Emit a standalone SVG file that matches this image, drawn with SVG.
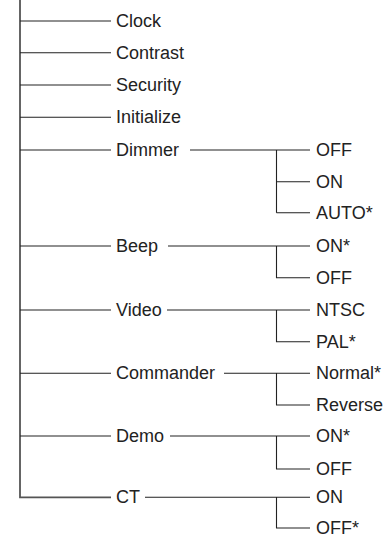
<svg xmlns="http://www.w3.org/2000/svg" width="385" height="534" viewBox="0 0 385 534">
<style>
.t{font-family:"Liberation Sans",Arial,sans-serif;font-size:18px;fill:#222;dominant-baseline:central}
.l{stroke:#222;stroke-width:1.1;fill:none}
.m{stroke:#555;stroke-width:1.8;fill:none}
</style>
<rect width="385" height="534" fill="#fff"/>
<g id="connectors">
<path class="m" d="M20,0V497.3H111"/>
<path class="l" d="M20,21H111M20,52.7H111M20,85H111M20,117.3H111M20,150H111M20,246H111M20,310H111M20,373.3H111M20,436H111"/>
<path class="l" d="M190,150H310M276.5,150V212.7M276.5,181.7H310M276.5,212.7H310"/>
<path class="l" d="M168,246H310M276.5,246V277.7H310"/>
<path class="l" d="M167,310H310M276.5,310V341.7H310"/>
<path class="l" d="M224,373.3H310M276.5,373.3V405H310"/>
<path class="l" d="M170,436H310M276.5,436V469H310"/>
<path class="l" d="M145,497.3H310M276.5,497.3V528H310"/>
</g>
<g id="clock"><text class="t" x="116" y="21">Clock</text></g>
<g id="contrast"><text class="t" x="116" y="52.7">Contrast</text></g>
<g id="security"><text class="t" x="116" y="85">Security</text></g>
<g id="initialize"><text class="t" x="116" y="117.3">Initialize</text></g>
<g id="dimmer"><text class="t" x="116" y="150">Dimmer</text></g>
<g id="dimmer-off"><text class="t" x="316" y="150">OFF</text></g>
<g id="dimmer-on"><text class="t" x="316" y="181.7">ON</text></g>
<g id="dimmer-auto"><text class="t" x="316" y="212.7">AUTO*</text></g>
<g id="beep"><text class="t" x="116" y="246">Beep</text></g>
<g id="beep-on"><text class="t" x="316" y="246">ON*</text></g>
<g id="beep-off"><text class="t" x="316" y="277.7">OFF</text></g>
<g id="video"><text class="t" x="116" y="310">Video</text></g>
<g id="video-ntsc"><text class="t" x="316" y="310">NTSC</text></g>
<g id="video-pal"><text class="t" x="316" y="341.7">PAL*</text></g>
<g id="commander"><text class="t" x="116" y="373.3">Commander</text></g>
<g id="commander-normal"><text class="t" x="316" y="373.3">Normal*</text></g>
<g id="commander-reverse"><text class="t" x="316" y="405">Reverse</text></g>
<g id="demo"><text class="t" x="116" y="436">Demo</text></g>
<g id="demo-on"><text class="t" x="316" y="436">ON*</text></g>
<g id="demo-off"><text class="t" x="316" y="469">OFF</text></g>
<g id="ct"><text class="t" x="116" y="497.3">CT</text></g>
<g id="ct-on"><text class="t" x="316" y="497.3">ON</text></g>
<g id="ct-off"><text class="t" x="316" y="528">OFF*</text></g>
</svg>
